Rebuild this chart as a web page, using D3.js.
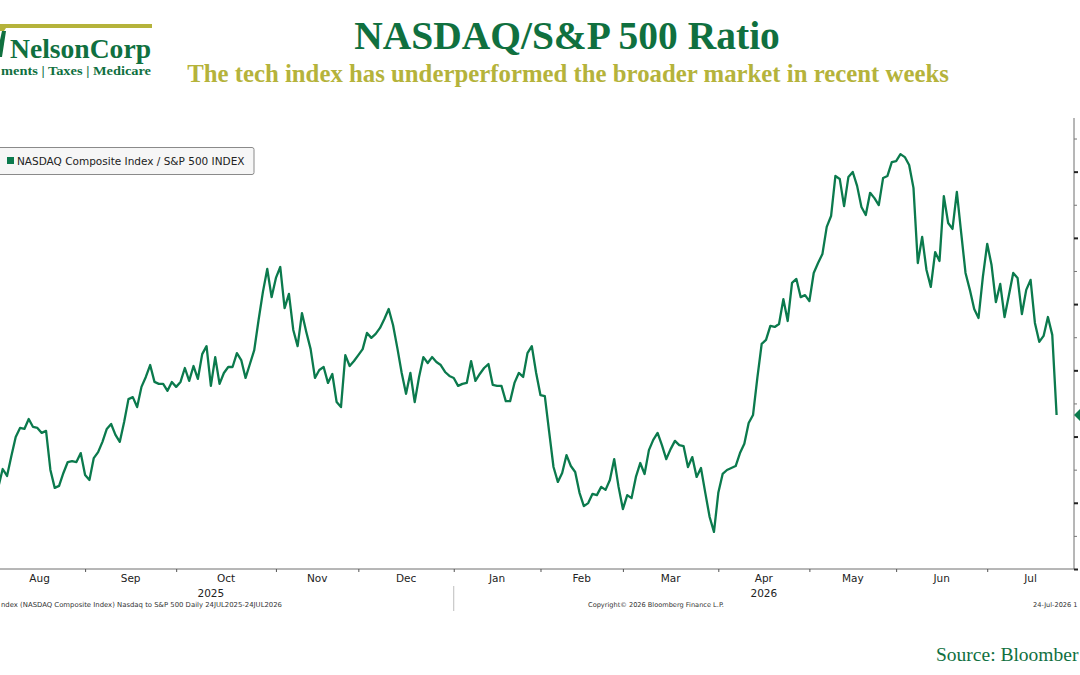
<!DOCTYPE html>
<html>
<head>
<meta charset="utf-8">
<script src="https://cdn.jsdelivr.net/npm/d3@7/dist/d3.min.js"></script>
<style>
  html, body { margin: 0; padding: 0; background: #ffffff; overflow: hidden; }
  svg { display: block; }
</style>
</head>
<body>
<svg id="chart" width="1080" height="675"></svg>
<script>
// ---------------- DATA ----------------
// Trading-day index of the first value (index 0 = 24 Jul 2025)
const firstIndex = 7;
const lastIndex = 251;
// NASDAQ Composite / S&P 500 ratio, daily closes
const ratio = [
  3.3248,3.3302,3.3281,3.3341,3.3399,3.3426,3.3423,3.3453,3.3429,3.3426,
  3.3411,3.3417,3.3299,3.3245,3.3251,3.3290,3.3323,3.3326,3.3323,3.3350,
  3.3284,3.3269,3.3335,3.3353,3.3384,3.3423,3.3438,3.3405,3.3384,3.3444,
  3.3513,3.3519,3.3489,3.3550,3.3580,3.3616,3.3565,3.3559,3.3559,3.3538,
  3.3565,3.3550,3.3565,3.3607,3.3568,3.3613,3.3574,3.3649,3.3673,3.3553,
  3.3640,3.3559,3.3592,3.3610,3.3610,3.3652,3.3631,3.3577,3.3619,3.3661,
  3.3752,3.3837,3.3906,3.3821,3.3879,3.3912,3.3788,3.3831,3.3722,3.3673,
  3.3773,3.3716,3.3664,3.3577,3.3601,3.3610,3.3562,3.3589,3.3504,3.3489,
  3.3646,3.3613,3.3628,3.3646,3.3664,3.3713,3.3698,3.3710,3.3728,3.3755,
  3.3785,3.3737,3.3667,3.3592,3.3529,3.3592,3.3504,3.3580,3.3640,3.3622,
  3.3640,3.3625,3.3616,3.3595,3.3583,3.3577,3.3553,3.3559,3.3562,3.3628,
  3.3568,3.3589,3.3607,3.3619,3.3556,3.3553,3.3553,3.3507,3.3507,3.3562,
  3.3592,3.3580,3.3652,3.3673,3.3592,3.3525,3.3522,3.3414,3.3308,3.3263,
  3.3290,3.3344,3.3311,3.3293,3.3230,3.3190,3.3199,3.3227,3.3223,3.3248,
  3.3239,3.3269,3.3332,3.3248,3.3181,3.3223,3.3214,3.3278,3.3320,3.3287,
  3.3359,3.3390,3.3411,3.3374,3.3332,3.3362,3.3387,3.3374,3.3371,3.3308,
  3.3338,3.3278,3.3305,3.3230,3.3157,3.3112,3.3230,3.3287,3.3299,3.3305,
  3.3311,3.3350,3.3378,3.3441,3.3465,3.3577,3.3680,3.3692,3.3734,3.3731,
  3.3740,3.3815,3.3749,3.3864,3.3876,3.3821,3.3827,3.3809,3.3894,3.3924,
  3.3951,3.4033,3.4066,3.4187,3.4178,3.4096,3.4184,3.4199,3.4157,3.4093,
  3.4069,3.4136,3.4120,3.4099,3.4181,3.4187,3.4229,3.4232,3.4253,3.4244,
  3.4220,3.4151,3.3924,3.4003,3.3903,3.3852,3.3957,3.3930,3.4126,3.4045,
  3.4027,3.4139,3.4015,3.3894,3.3843,3.3785,3.3758,3.3882,3.3982,3.3918,
  3.3806,3.3861,3.3761,3.3827,3.3894,3.3879,3.3770,3.3843,3.3873,3.3743,
  3.3686,3.3704,3.3761,3.3707,3.3465
];
// Month labels and trading-day index of each month's first session
const monthLabels = ["Aug","Sep","Oct","Nov","Dec","Jan","Feb","Mar","Apr","May","Jun","Jul"];
const monthStart  = [6, 27, 48, 71, 90, 112, 132, 151, 173, 194, 214, 235];
const yearLabels = ["2025", "2026"];
const yearStart  = [0, 112];
// Right-axis ticks
const yMajorTicks = [3.30, 3.32, 3.34, 3.36, 3.38, 3.40, 3.42];
const yMinorTicks = [3.31, 3.33, 3.35, 3.37, 3.39, 3.41, 3.43];
const yDomain = [3.30, 3.4362];

const seriesName = "NASDAQ Composite Index / S&P 500 INDEX";
const titleText = "NASDAQ/S&P 500 Ratio";
const subtitleText = "The tech index has underperformed the broader market in recent weeks";
const taglineText = "ments | Taxes | Medicare";
const footLeft = "ndex (NASDAQ Composite Index) Nasdaq to S&P 500 Daily 24JUL2025-24JUL2026";
const footMid = "Copyright\u00A9 2026 Bloomberg Finance L.P.";
const footRight = "24-Jul-2026 1";
const sourceText = "Source: Bloomber";

// ---------------- LAYOUT ----------------
const svg = d3.select("#chart");
const plot = { left: -32, right: 1074, top: 118, bottom: 569 };
const GREEN = "#0b7a4d";
const TITLE_GREEN = "#10703f";
const OLIVE = "#b5b33b";
const bbFont = "'DejaVu Sans', Verdana, sans-serif";
const serif = "'Liberation Serif', 'Times New Roman', serif";

const x = d3.scaleLinear().domain([0, lastIndex]).range([plot.left, 1056.6]);
const y = d3.scaleLinear().domain(yDomain).range([plot.bottom, plot.top]);

// ---------------- LOGO ----------------
const logo = svg.append("g");
logo.append("path")
  .attr("d", "M0,24 L152,24 L152,28 L6,28 L4,31 L0,31 Z")
  .attr("fill", OLIVE);
logo.append("path")
  .attr("d", "M2,31 L6,31 L2,57 L0,57 L0,40 Z")
  .attr("fill", TITLE_GREEN);
logo.append("text")
  .attr("x", 10).attr("y", 58)
  .attr("font-family", serif).attr("font-weight", "bold")
  .attr("font-size", 28).attr("fill", TITLE_GREEN)
  .attr("textLength", 141).attr("lengthAdjust", "spacingAndGlyphs")
  .text("NelsonCorp");
logo.append("text")
  .attr("x", 1).attr("y", 75)
  .attr("font-family", serif).attr("font-weight", "bold")
  .attr("font-size", 13.5).attr("fill", TITLE_GREEN)
  .attr("textLength", 150).attr("lengthAdjust", "spacingAndGlyphs")
  .text(taglineText);

// ---------------- TITLES ----------------
svg.append("text")
  .attr("x", 567).attr("y", 49)
  .attr("text-anchor", "middle")
  .attr("font-family", serif).attr("font-weight", "bold")
  .attr("font-size", 39.5).attr("fill", TITLE_GREEN)
  .text(titleText);
svg.append("text")
  .attr("x", 568).attr("y", 82)
  .attr("text-anchor", "middle")
  .attr("font-family", serif).attr("font-weight", "bold")
  .attr("font-size", 24.8).attr("fill", OLIVE)
  .text(subtitleText);

// ---------------- AXES ----------------
svg.append("line")
  .attr("x1", 0).attr("x2", plot.right)
  .attr("y1", plot.bottom).attr("y2", plot.bottom)
  .attr("stroke", "#6e6e6e").attr("stroke-width", 1);
svg.append("line")
  .attr("x1", plot.right).attr("x2", plot.right)
  .attr("y1", plot.top).attr("y2", plot.bottom)
  .attr("stroke", "#6e6e6e").attr("stroke-width", 1);

const xAxis = d3.axisBottom(x)
  .tickValues(monthStart.slice(1))
  .tickSize(3)
  .tickFormat("");
const gx = svg.append("g").attr("transform", `translate(0,${plot.bottom})`).call(xAxis);
gx.select(".domain").remove();
gx.selectAll(".tick line").attr("stroke", "#555");

const monthEnds = monthStart.slice(1).map(i => x(i)).concat([plot.right]);
svg.append("g").selectAll("text")
  .data(monthLabels)
  .join("text")
  .attr("x", (d, i) => (x(monthStart[i]) + monthEnds[i]) / 2)
  .attr("y", 582)
  .attr("text-anchor", "middle")
  .attr("font-family", bbFont).attr("font-size", 10.5).attr("fill", "#222")
  .text(d => d);

const yearEnds = [x(yearStart[1]), plot.right];
svg.append("g").selectAll("text")
  .data(yearLabels)
  .join("text")
  .attr("x", (d, i) => (x(yearStart[i]) + yearEnds[i]) / 2)
  .attr("y", 597)
  .attr("text-anchor", "middle")
  .attr("font-family", bbFont).attr("font-size", 10.5).attr("fill", "#222")
  .text(d => d);
svg.append("line")
  .attr("x1", x(yearStart[1])).attr("x2", x(yearStart[1]))
  .attr("y1", 586).attr("y2", 611)
  .attr("stroke", "#bdbdbd").attr("stroke-width", 1);

const yAxisMajor = d3.axisRight(y).tickValues(yMajorTicks).tickSize(4).tickFormat("");
const gy = svg.append("g").attr("transform", `translate(${plot.right},0)`).call(yAxisMajor);
gy.select(".domain").remove();
gy.selectAll(".tick line").attr("stroke", "#222").attr("stroke-width", 2);
const yAxisMinor = d3.axisRight(y).tickValues(yMinorTicks).tickSize(3).tickFormat("");
const gym = svg.append("g").attr("transform", `translate(${plot.right},0)`).call(yAxisMinor);
gym.select(".domain").remove();
gym.selectAll(".tick line").attr("stroke", "#777").attr("stroke-width", 1);

// ---------------- SERIES ----------------
const pts = ratio.map((v, i) => ({ i: firstIndex + i, v }));
const line = d3.line().x(d => x(d.i)).y(d => y(d.v));
svg.append("path")
  .datum(pts)
  .attr("d", line)
  .attr("fill", "none")
  .attr("stroke", GREEN)
  .attr("stroke-width", 2.3)
  .attr("stroke-linejoin", "round");

const lastY = y(ratio[ratio.length - 1]);
svg.append("path")
  .attr("d", `M${plot.right},${lastY} L${plot.right + 6},${lastY - 6} L${plot.right + 30},${lastY - 6} L${plot.right + 30},${lastY + 6} L${plot.right + 6},${lastY + 6} Z`)
  .attr("fill", GREEN);

// ---------------- LEGEND ----------------
const leg = svg.append("g");
leg.append("rect")
  .attr("x", -4).attr("y", 147.5).attr("width", 258).attr("height", 27)
  .attr("rx", 2).attr("fill", "#f6f6f6").attr("stroke", "#8a8a8a").attr("stroke-width", 1);
leg.append("rect")
  .attr("x", 7).attr("y", 157).attr("width", 7).attr("height", 7)
  .attr("fill", GREEN);
leg.append("text")
  .attr("x", 17).attr("y", 164.5)
  .attr("font-family", bbFont).attr("font-size", 10.5).attr("fill", "#222")
  .text(seriesName);

// ---------------- FOOTER ----------------
svg.append("text")
  .attr("x", 1).attr("y", 607)
  .attr("font-family", bbFont).attr("font-size", 6.8).attr("fill", "#333")
  .attr("textLength", 281).attr("lengthAdjust", "spacingAndGlyphs")
  .text(footLeft);
svg.append("text")
  .attr("x", 656).attr("y", 607)
  .attr("text-anchor", "middle")
  .attr("font-family", bbFont).attr("font-size", 6.6).attr("fill", "#333")
  .text(footMid);
svg.append("text")
  .attr("x", 1033).attr("y", 607)
  .attr("font-family", bbFont).attr("font-size", 6.6).attr("fill", "#333")
  .text(footRight);

svg.append("text")
  .attr("x", 936).attr("y", 661)
  .attr("font-family", serif).attr("font-size", 19.5).attr("fill", TITLE_GREEN)
  .text(sourceText);
</script>
</body>
</html>
